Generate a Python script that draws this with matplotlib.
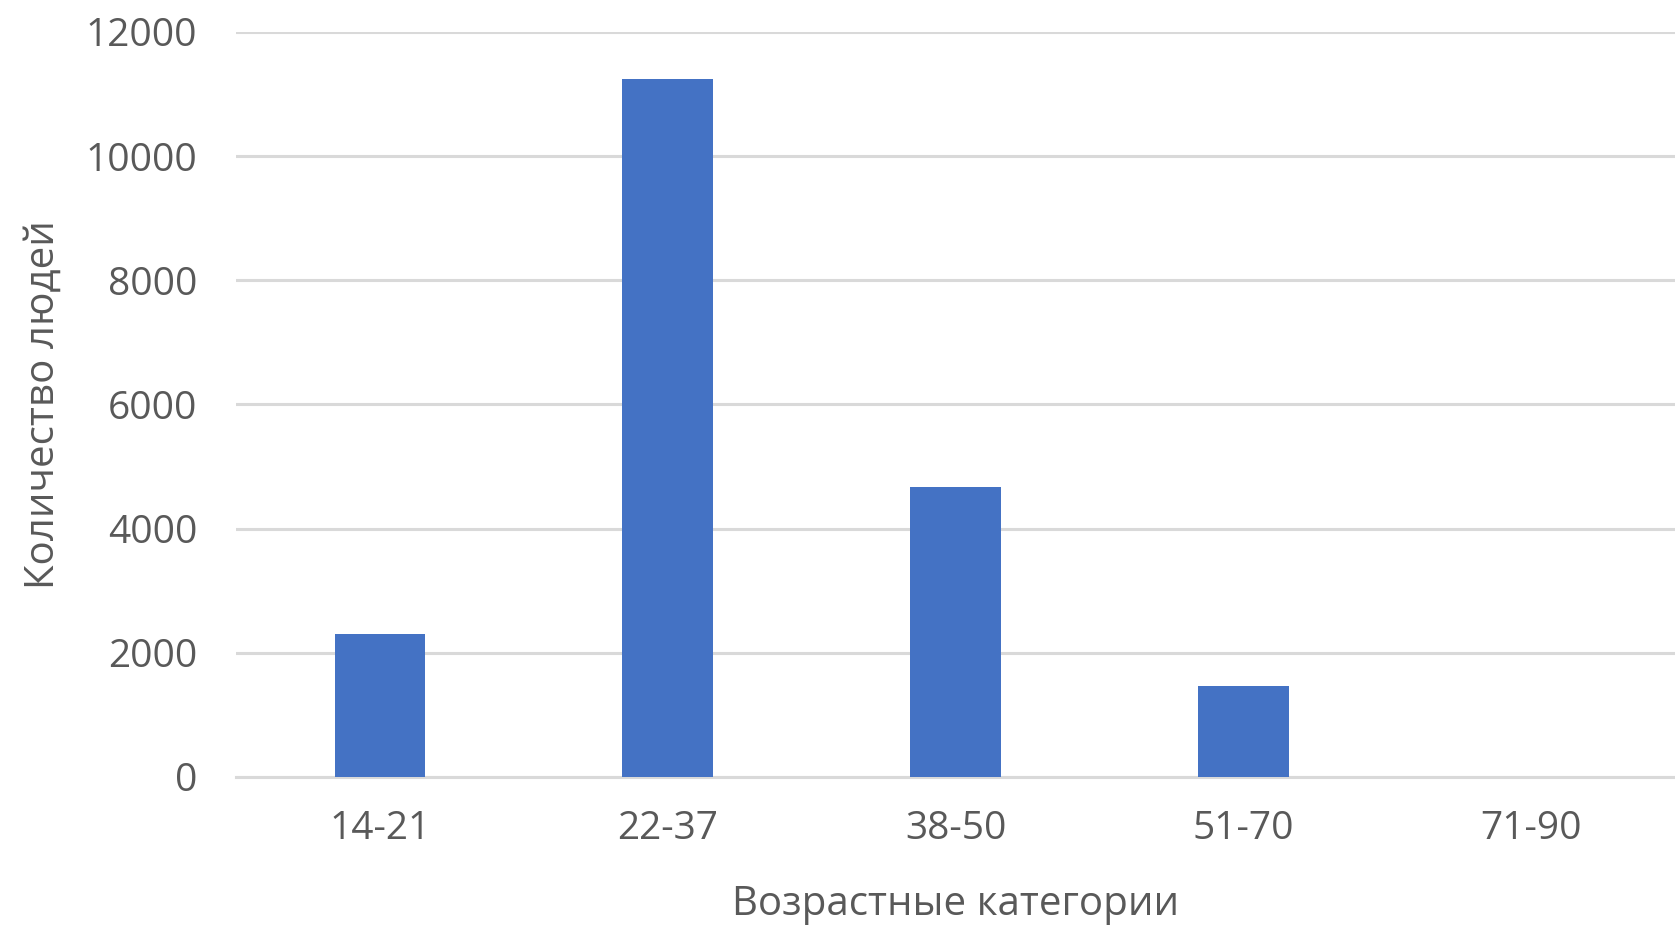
import matplotlib.pyplot as plt

# Age groups and counts
categories = ["14-21", "22-37", "38-50", "51-70", "71-90"]
counts = [2300, 11240, 4670, 1470, 0]

plt.rcParams['font.family'] = ['Open Sans', 'DejaVu Sans']
text_color = "#595959"

fig = plt.figure(figsize=(16.75, 9.26), dpi=100)
ax = fig.add_axes([0.141, 0.161, 0.859, 0.8045])

x = range(len(categories))
ax.bar(x, counts, width=0.315, color="#4472C4", zorder=3)

ax.set_xlim(-0.5, len(categories) - 0.5)
ax.set_ylim(0, 12000)
ax.set_yticks(range(0, 12001, 2000))
ax.set_xticks(list(x))
ax.set_xticklabels(categories)

ax.grid(axis="y", color="#d9d9d9", linewidth=2.2, zorder=0)
for s in ["top", "right", "left"]:
    ax.spines[s].set_visible(False)
ax.spines["bottom"].set_color("#d9d9d9")
ax.spines["bottom"].set_linewidth(2.2)
ax.tick_params(axis="both", length=0, labelsize=28, colors=text_color)
ax.tick_params(axis="y", pad=28)
ax.tick_params(axis="x", pad=24)

ax.set_xlabel("Возрастные категории", fontsize=29, color=text_color, labelpad=26)
ax.set_ylabel("Количество людей", fontsize=29, color=text_color, labelpad=16)

fig.savefig("out.png", dpi=100)
